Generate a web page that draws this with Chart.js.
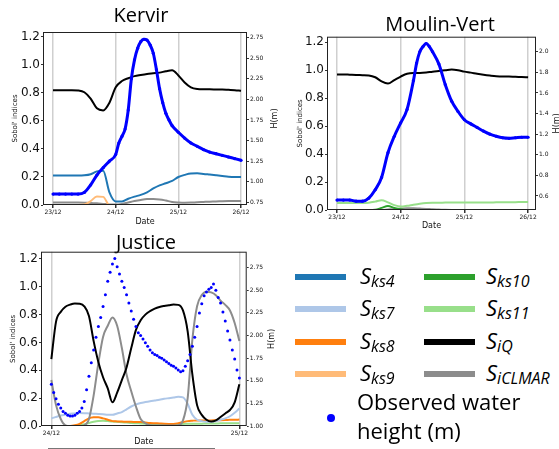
<!DOCTYPE html>
<html>
<head>
<meta charset="utf-8">
<script src="https://cdn.jsdelivr.net/npm/chart.js@4.4.1/dist/chart.umd.min.js"></script>
<style>
  html, body { margin: 0; padding: 0; background: #fff; width: 559px; height: 449px; overflow: hidden; position: relative; }
  canvas { position: absolute; }
  .sw { position: absolute; width: 51px; height: 6px; }
  .lt { position: absolute; font: italic 22px 'Open Sans', sans-serif; line-height: 30px; color: #000; white-space: nowrap; }
  .lt sub { font-size: 16px; vertical-align: -3px; }
  .obs { position: absolute; left: 357px; top: 387px; font: 22px 'Open Sans', sans-serif; line-height: 29px; color: #000; }
  .dot { position: absolute; left: 327px; top: 414px; width: 8px; height: 8px; border-radius: 50%; background: #0000ff; }
  .cut { position: absolute; left: 48px; top: 448px; width: 167px; height: 1px; background: #777; }
</style>
</head>
<body>
<canvas id="kervir" width="282" height="228" style="left:0;top:0"></canvas>
<canvas id="moulin" width="300" height="232" style="left:290px;top:0"></canvas>
<canvas id="justice" width="292" height="223" style="left:0;top:226px"></canvas>
<div id="legend"></div>
<div class="dot"></div>
<div class="obs">Observed water<br>height (m)</div>
<div class="cut"></div>
<script>
// shared ticks
const sobolTicks = [0, 0.2, 0.4, 0.6, 0.8, 1.0, 1.2];

// Kervir, days since 23/12
const kervirDays = ['23/12', '24/12', '25/12', '26/12'];
const kervirHTicks = [0.75, 1.00, 1.25, 1.50, 1.75, 2.00, 2.25, 2.50, 2.75];
const kervirT = [0, 0.1, 0.2, 0.3, 0.4, 0.5, 0.6, 0.7, 0.8, 0.9, 1.0, 1.1, 1.2, 1.3, 1.4, 1.5, 1.6, 1.7, 1.8, 1.9, 2.0, 2.1, 2.2, 2.3, 2.4, 2.5, 2.6, 2.7, 2.8, 2.9, 3.0];
const kervirSiQ = [0.82, 0.82, 0.82, 0.82, 0.818, 0.805, 0.76, 0.69, 0.675, 0.73, 0.84, 0.885, 0.905, 0.92, 0.928, 0.935, 0.94, 0.945, 0.955, 0.962, 0.925, 0.875, 0.84, 0.828, 0.826, 0.826, 0.825, 0.824, 0.822, 0.82, 0.815];
const kervirSks4 = [0.21, 0.21, 0.21, 0.21, 0.21, 0.212, 0.22, 0.24, 0.245, 0.09, 0.025, 0.025, 0.045, 0.06, 0.072, 0.09, 0.118, 0.14, 0.155, 0.172, 0.2, 0.215, 0.225, 0.226, 0.222, 0.217, 0.212, 0.207, 0.202, 0.2, 0.2];
const kervirSks9 = [0, 0, 0, 0, 0, 0.003, 0.028, 0.06, 0.058, 0, 0, 0, 0, 0, 0, 0, 0, 0, 0, 0, 0, 0, 0, 0, 0, 0, 0, 0, 0, 0, 0];
const kervirSiCLMAR = [0.018, 0.018, 0.018, 0.018, 0.017, 0.016, 0.015, 0.012, 0.008, 0.004, 0.003, 0.008, 0.018, 0.028, 0.036, 0.042, 0.043, 0.04, 0.032, 0.022, 0.018, 0.016, 0.017, 0.02, 0.022, 0.024, 0.025, 0.027, 0.028, 0.028, 0.028];
const kervirObsT = [0, 0.1, 0.2, 0.3, 0.4, 0.5, 0.6, 0.7, 0.8, 0.9, 1.0, 1.05, 1.1, 1.15, 1.2, 1.25, 1.3, 1.35, 1.4, 1.45, 1.5, 1.55, 1.6, 1.65, 1.7, 1.75, 1.8, 1.85, 1.9, 2.0, 2.1, 2.2, 2.3, 2.4, 2.5, 2.6, 2.7, 2.8, 2.9, 3.0];
const kervirObsH = [0.85, 0.85, 0.85, 0.85, 0.85, 0.87, 0.96, 1.08, 1.17, 1.25, 1.33, 1.47, 1.55, 1.64, 1.87, 2.25, 2.48, 2.62, 2.70, 2.73, 2.72, 2.66, 2.56, 2.36, 2.13, 1.96, 1.83, 1.75, 1.68, 1.60, 1.53, 1.47, 1.43, 1.39, 1.36, 1.34, 1.32, 1.30, 1.28, 1.26];

// Moulin-Vert, days since 23/12
const moulinDays = ['23/12', '24/12', '25/12', '26/12'];
const moulinHTicks = [0.6, 0.8, 1.0, 1.2, 1.4, 1.6, 1.8, 2.0];
const moulinT = [0, 0.1, 0.2, 0.3, 0.4, 0.5, 0.6, 0.7, 0.8, 0.9, 1.0, 1.1, 1.2, 1.3, 1.4, 1.5, 1.6, 1.7, 1.8, 1.9, 2.0, 2.1, 2.2, 2.3, 2.4, 2.5, 2.6, 2.7, 2.8, 2.9, 3.0];
const moulinSiQ = [0.97, 0.97, 0.968, 0.966, 0.965, 0.963, 0.95, 0.92, 0.905, 0.93, 0.955, 0.975, 0.98, 0.98, 0.983, 0.99, 0.995, 1.0, 1.005, 1.0, 0.99, 0.983, 0.975, 0.968, 0.962, 0.957, 0.955, 0.955, 0.953, 0.952, 0.95];
const moulinSks11 = [0.05, 0.05, 0.05, 0.05, 0.05, 0.052, 0.06, 0.07, 0.055, 0.035, 0.025, 0.03, 0.038, 0.045, 0.05, 0.052, 0.052, 0.053, 0.053, 0.053, 0.053, 0.053, 0.053, 0.054, 0.054, 0.055, 0.055, 0.056, 0.056, 0.057, 0.057];
const moulinSks10 = [0, 0, 0, 0, 0, 0, 0.002, 0.015, 0.028, 0.015, 0.006, 0, 0, 0, 0, 0, 0, 0, 0, 0, 0, 0, 0, 0, 0, 0, 0, 0, 0, 0, 0];
const moulinSiCLMAR = [0, 0, 0, 0, 0, 0, 0, 0, 0.004, 0.008, 0.01, 0.012, 0.012, 0.01, 0.008, 0.005, 0.003, 0.001, 0, 0, 0, 0, 0, 0, 0, 0, 0, 0, 0, 0, 0];
const moulinObsT = [0, 0.1, 0.2, 0.3, 0.4, 0.5, 0.6, 0.7, 0.8, 0.9, 1.0, 1.1, 1.2, 1.25, 1.3, 1.35, 1.4, 1.45, 1.5, 1.6, 1.7, 1.8, 1.9, 2.0, 2.1, 2.2, 2.3, 2.4, 2.5, 2.6, 2.7, 2.8, 2.9, 3.0];
const moulinObsH = [0.56, 0.56, 0.56, 0.55, 0.55, 0.58, 0.66, 0.78, 1.02, 1.18, 1.31, 1.44, 1.72, 1.89, 2.0, 2.05, 2.08, 2.05, 2.0, 1.88, 1.68, 1.52, 1.42, 1.34, 1.3, 1.265, 1.23, 1.2, 1.18, 1.165, 1.16, 1.165, 1.17, 1.17];

// Justice, days since 24/12
const justiceDays = ['24/12', '25/12'];
const justiceHTicks = [1.00, 1.25, 1.50, 1.75, 2.00, 2.25, 2.50, 2.75];
const justiceT = [0, 0.025, 0.05, 0.075, 0.1, 0.125, 0.15, 0.175, 0.2, 0.225, 0.25, 0.275, 0.3, 0.325, 0.35, 0.375, 0.4, 0.425, 0.45, 0.475, 0.5, 0.525, 0.55, 0.575, 0.6, 0.625, 0.65, 0.675, 0.7, 0.725, 0.75, 0.775, 0.8, 0.825, 0.85, 0.875, 0.9, 0.925, 0.95, 0.975, 1.0];
const justiceSiQ = [0.48, 0.75, 0.82, 0.857, 0.872, 0.88, 0.878, 0.86, 0.79, 0.61, 0.46, 0.35, 0.27, 0.17, 0.24, 0.33, 0.42, 0.56, 0.69, 0.76, 0.8, 0.825, 0.843, 0.855, 0.862, 0.867, 0.872, 0.87, 0.83, 0.68, 0.37, 0.15, 0.08, 0.045, 0.032, 0.04, 0.065, 0.09, 0.115, 0.17, 0.3];
const justiceSiCLMAR = [0.33, 0.15, 0.05, 0.005, 0, 0, 0, 0.005, 0.05, 0.22, 0.45, 0.64, 0.72, 0.78, 0.72, 0.56, 0.37, 0.25, 0.14, 0.05, 0.02, 0.005, 0.003, 0.003, 0.003, 0.003, 0.003, 0.005, 0.04, 0.2, 0.62, 0.86, 0.94, 0.965, 0.96, 0.94, 0.9, 0.87, 0.83, 0.74, 0.61];
const justiceSks7 = [0.055, 0.065, 0.075, 0.082, 0.088, 0.09, 0.093, 0.092, 0.09, 0.088, 0.087, 0.085, 0.08, 0.08, 0.09, 0.1, 0.12, 0.14, 0.155, 0.165, 0.172, 0.178, 0.183, 0.188, 0.195, 0.2, 0.205, 0.21, 0.205, 0.16, 0.08, 0.045, 0.035, 0.03, 0.03, 0.035, 0.045, 0.055, 0.07, 0.095, 0.125];
const justiceSks8 = [0, 0, 0, 0, 0, 0.005, 0.015, 0.035, 0.055, 0.062, 0.063, 0.055, 0.045, 0.035, 0.033, 0.032, 0.03, 0.03, 0.028, 0.028, 0.025, 0.022, 0.02, 0.018, 0.016, 0.015, 0.015, 0.02, 0.028, 0.035, 0.038, 0.04, 0.04, 0.04, 0.04, 0.042, 0.042, 0.043, 0.045, 0.045, 0.046];
const justiceSks11 = [0, 0, 0, 0, 0, 0, 0.005, 0.012, 0.022, 0.03, 0.036, 0.038, 0.035, 0.032, 0.03, 0.027, 0.025, 0.022, 0.02, 0.018, 0.016, 0.015, 0.015, 0.015, 0.015, 0.015, 0.015, 0.015, 0.015, 0.016, 0.016, 0.017, 0.017, 0.018, 0.018, 0.018, 0.019, 0.019, 0.02, 0.02, 0.02];
const justiceObsT = [0, 0.0125, 0.025, 0.0375, 0.05, 0.0625, 0.075, 0.0875, 0.1, 0.1125, 0.125, 0.1375, 0.15, 0.1625, 0.175, 0.1875, 0.2, 0.2125, 0.225, 0.2375, 0.25, 0.2625, 0.275, 0.2875, 0.3, 0.3125, 0.325, 0.3375, 0.35, 0.3625, 0.375, 0.3875, 0.4, 0.4125, 0.425, 0.4375, 0.45, 0.4625, 0.475, 0.4875, 0.5, 0.5125, 0.525, 0.5375, 0.55, 0.5625, 0.575, 0.5875, 0.6, 0.6125, 0.625, 0.6375, 0.65, 0.6625, 0.675, 0.6875, 0.7, 0.7125, 0.725, 0.7375, 0.75, 0.7625, 0.775, 0.7875, 0.8, 0.8125, 0.825, 0.8375, 0.85, 0.8625, 0.875, 0.8875, 0.9, 0.9125, 0.925, 0.9375, 0.95, 0.9625, 0.975, 0.9875, 1.0];
const justiceObsH = [1.46, 1.37, 1.30, 1.24, 1.20, 1.16, 1.14, 1.12, 1.11, 1.11, 1.12, 1.14, 1.16, 1.20, 1.27, 1.40, 1.55, 1.70, 1.84, 1.98, 2.10, 2.20, 2.32, 2.45, 2.60, 2.70, 2.79, 2.85, 2.76, 2.68, 2.60, 2.53, 2.45, 2.36, 2.27, 2.18, 2.10, 2.03, 2.00, 1.96, 1.92, 1.88, 1.84, 1.81, 1.79, 1.78, 1.76, 1.75, 1.73, 1.71, 1.69, 1.67, 1.66, 1.64, 1.62, 1.60, 1.61, 1.66, 1.72, 1.79, 1.88, 1.98, 2.10, 2.25, 2.35, 2.44, 2.48, 2.51, 2.53, 2.57, 2.50, 2.42, 2.36, 2.26, 2.16, 2.05, 1.95, 1.84, 1.74, 1.62, 1.53];

const C = {
  ks4: '#1f77b4', ks7: '#aec7e8', ks8: '#ff7f0e', ks9: '#ffbb78',
  ks10: '#2ca02c', ks11: '#98df8a', iQ: '#000000', iCLMAR: '#8c8c8c', obs: '#0000ff'
};

const pts = (t, v) => t.map((x, i) => ({ x, y: v[i] }));

function sobol(name, t, v, w) {
  return {
    label: 'S' + name, data: pts(t, v), yAxisID: 'y',
    borderColor: C[name], borderWidth: w || 2, pointRadius: 0,
    cubicInterpolationMode: 'monotone', fill: false
  };
}

function observed(t, v, asLine) {
  return {
    label: 'Observed water height (m)', data: pts(t, v), yAxisID: 'y1',
    borderColor: C.obs, backgroundColor: C.obs, borderWidth: 3,
    showLine: asLine, pointRadius: asLine ? 1.6 : 1.5, pointBorderWidth: 0,
    cubicInterpolationMode: 'monotone'
  };
}

// chart-area box + right-hand H(m) label read bottom to top
const frame = {
  id: 'frame',
  afterDatasetsDraw(chart) {
    const { ctx, chartArea: a } = chart;
    ctx.save();
    ctx.strokeStyle = '#222';
    ctx.lineWidth = 1;
    ctx.strokeRect(a.left + 0.5, a.top + 0.5, a.right - a.left - 1, a.bottom - a.top - 1);
    ctx.restore();
  }
};
const hLabel = {
  id: 'hLabel',
  afterDraw(chart, args, opts) {
    const s = chart.scales.y1, ctx = chart.ctx;
    ctx.save();
    ctx.translate(opts.x, (s.top + s.bottom) / 2);
    ctx.rotate(-Math.PI / 2);
    ctx.font = '8px "DejaVu Sans"';
    ctx.fillStyle = '#111';
    ctx.textAlign = 'center';
    ctx.textBaseline = 'middle';
    ctx.fillText('H(m)', 0, 0);
    ctx.restore();
  }
};

function panel(id, o) {
  const tickFont = { family: 'DejaVu Sans', size: 6 };
  return new Chart(document.getElementById(id), {
    type: 'line',
    data: { datasets: o.datasets },
    options: {
      responsive: false, animation: false, events: [],
      layout: { padding: 0 },
      plugins: {
        legend: { display: false },
        tooltip: { enabled: false },
        title: {
          display: true, text: o.title, color: '#000',
          font: { family: 'Open Sans', size: 20, weight: 'normal', lineHeight: 0.85 },
          padding: { top: o.titlePad[0], bottom: o.titlePad[1] }
        },
        hLabel: { x: o.hX }
      },
      scales: {
        x: {
          type: 'linear', min: o.xRange[0], max: o.xRange[1],
          afterBuildTicks: ax => { ax.ticks = o.days.map((d, i) => ({ value: i })); },
          afterFit: ax => { ax.height = o.xHeight; },
          ticks: { autoSkip: false, maxRotation: 0, padding: 1, color: '#111', font: tickFont, callback: (v, i) => o.days[i] },
          grid: { color: '#cfcfcf', lineWidth: 1.5, tickColor: '#333', tickLength: 3 },
          border: { display: false },
          title: { display: true, text: 'Date', color: '#111', font: { family: 'DejaVu Sans', size: 8 }, padding: { top: 0, bottom: o.datePad } }
        },
        y: {
          position: 'left', min: 0, max: o.yMax,
          afterBuildTicks: ax => { ax.ticks = sobolTicks.map(v => ({ value: v })); },
          afterFit: ax => { ax.width = o.yWidth; },
          ticks: { autoSkip: false, padding: 1, color: '#111', font: { family: 'DejaVu Sans', size: 12 }, callback: v => v.toFixed(1) },
          grid: { drawOnChartArea: false, tickColor: '#333', tickLength: 2 },
          border: { display: false },
          title: { display: true, text: "Sobol' indices", color: '#111', font: { family: 'DejaVu Sans', size: 7 }, padding: { top: o.sobolPad, bottom: 0 } }
        },
        y1: {
          position: 'right', min: o.hRange[0], max: o.hRange[1],
          afterBuildTicks: ax => { ax.ticks = o.hTicks.map(v => ({ value: v })); },
          afterFit: ax => { ax.width = o.y1Width; },
          ticks: { autoSkip: false, padding: 1, color: '#111', font: tickFont, callback: v => v.toFixed(o.hDec) },
          grid: { drawOnChartArea: false, tickColor: '#333', tickLength: 2 },
          border: { display: false }
        }
      }
    },
    plugins: [frame, hLabel]
  });
}

panel('kervir', {
  title: 'Kervir', titlePad: [8, 7], days: kervirDays,
  xRange: [-0.16, 3.095], xHeight: 23, datePad: 1.7,
  yMax: 1.235, yWidth: 43, sobolPad: 10.8,
  hRange: [0.717, 2.818], hTicks: kervirHTicks, hDec: 2, y1Width: 35, hX: 275,
  datasets: [
    observed(kervirObsT, kervirObsH, true),
    sobol('iQ', kervirT, kervirSiQ),
    sobol('ks4', kervirT, kervirSks4),
    sobol('ks9', kervirT, kervirSks9),
    sobol('iCLMAR', kervirT, kervirSiCLMAR)
  ]
});

panel('moulin', {
  title: 'Moulin-Vert', titlePad: [16.5, 3.2], days: moulinDays,
  xRange: [-0.157, 3.124], xHeight: 22, datePad: 1.2,
  yMax: 1.24, yWidth: 37, sobolPad: 5.8,
  hRange: [0.464, 2.146], hTicks: moulinHTicks, hDec: 1, y1Width: 54, hX: 267,
  datasets: [
    observed(moulinObsT, moulinObsH, true),
    sobol('iQ', moulinT, moulinSiQ),
    sobol('ks11', moulinT, moulinSks11),
    sobol('ks10', moulinT, moulinSks10),
    sobol('iCLMAR', moulinT, moulinSiCLMAR)
  ]
});

panel('justice', {
  title: 'Justice', titlePad: [8.5, 0.2], days: justiceDays,
  xRange: [-0.055, 1.039], xHeight: 23, datePad: 2.5,
  yMax: 1.252, yWidth: 41, sobolPad: 9.1,
  hRange: [1.0, 2.926], hTicks: justiceHTicks, hDec: 2, y1Width: 45.3, hX: 271.7,
  datasets: [
    observed(justiceObsT, justiceObsH, false),
    sobol('iQ', justiceT, justiceSiQ),
    sobol('iCLMAR', justiceT, justiceSiCLMAR),
    sobol('ks7', justiceT, justiceSks7),
    sobol('ks8', justiceT, justiceSks8),
    sobol('ks11', justiceT, justiceSks11)
  ]
});

// legend, two columns of four
const legendCols = [['ks4', 'ks7', 'ks8', 'ks9'], ['ks10', 'ks11', 'iQ', 'iCLMAR']];
const swatchX = [295, 424], textX = [360, 486], rowY = [277, 309, 342, 374];
const legendEl = document.getElementById('legend');
legendCols.forEach((col, c) => col.forEach((name, r) => {
  legendEl.insertAdjacentHTML('beforeend',
    `<div class="sw" style="left:${swatchX[c]}px;top:${rowY[r] - 3}px;background:${C[name]}"></div>` +
    `<div class="lt" style="left:${textX[c]}px;top:${rowY[r] - 17}px">S<sub>${name}</sub></div>`);
}));
</script>
</body>
</html>
